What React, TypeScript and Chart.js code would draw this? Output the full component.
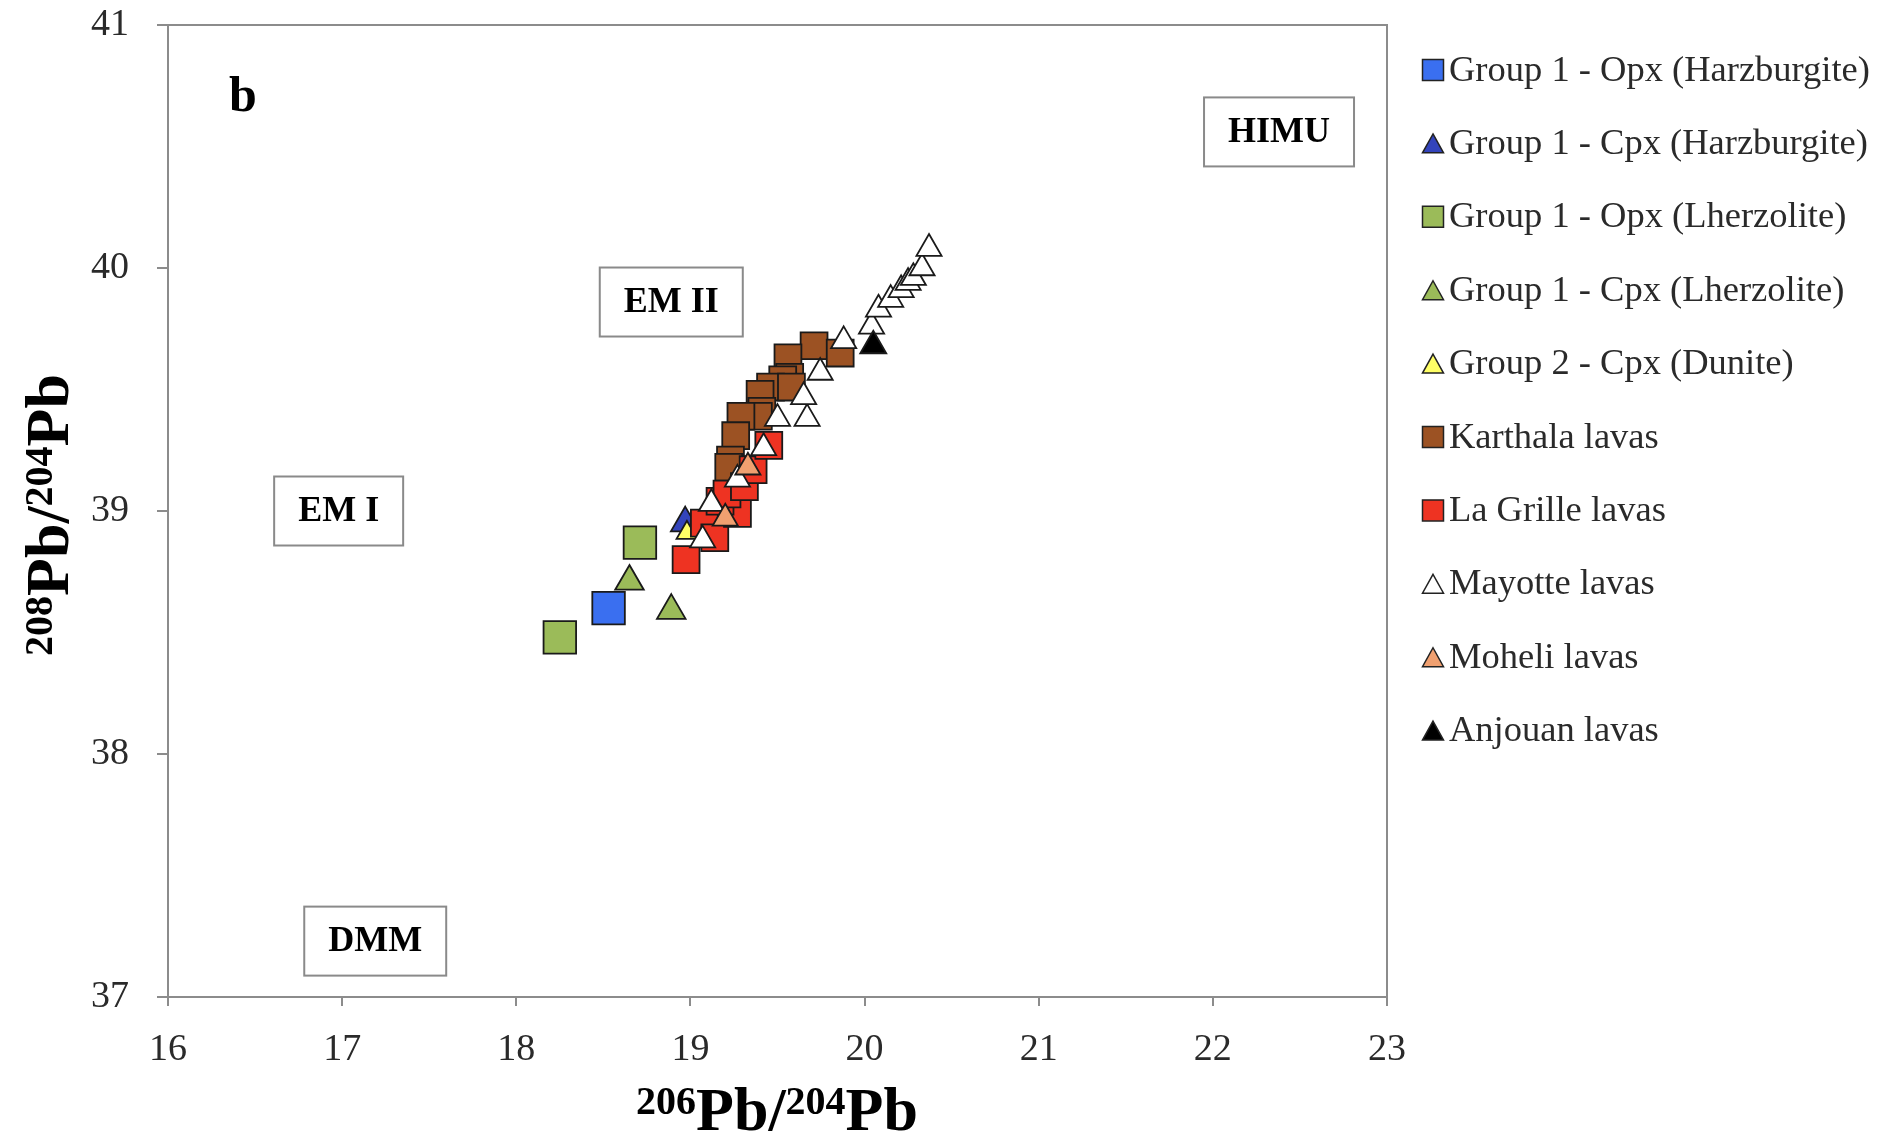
import React, { useEffect, useRef } from 'react';
import { Chart, registerables } from 'chart.js';

Chart.register(...registerables);

// ---------- data ----------
const seriesLabels = [
  'Group 1 - Opx (Harzburgite)',
  'Group 1 - Cpx (Harzburgite)',
  'Group 1 - Opx (Lherzolite)',
  'Group 1 - Cpx (Lherzolite)',
  'Group 2 - Cpx (Dunite)',
  'Karthala lavas',
  'La Grille lavas',
  'Mayotte lavas',
  'Moheli lavas',
  'Anjouan lavas',
];

const opxHarzburgite = [{ x: 18.53, y: 38.6 }];
const cpxHarzburgite = [{ x: 18.97, y: 38.95 }];
const opxLherzolite = [
  { x: 18.25, y: 38.48 },
  { x: 18.71, y: 38.87 },
];
const cpxLherzolite = [
  { x: 18.65, y: 38.71 },
  { x: 18.89, y: 38.59 },
];
const cpxDunite = [{ x: 18.98, y: 38.91 }];
const karthala = [
  { x: 19.71, y: 39.68 },
  { x: 19.56, y: 39.63 },
  { x: 19.86, y: 39.65 },
  { x: 19.57, y: 39.55 },
  { x: 19.53, y: 39.54 },
  { x: 19.46, y: 39.51 },
  { x: 19.4, y: 39.48 },
  { x: 19.41, y: 39.41 },
  { x: 19.39, y: 39.39 },
  { x: 19.29, y: 39.39 },
  { x: 19.26, y: 39.31 },
  { x: 19.23, y: 39.21 },
  { x: 19.22, y: 39.18 },
  { x: 19.58, y: 39.51 },
];
const laGrille = [
  { x: 18.975, y: 38.8 },
  { x: 19.08, y: 38.95 },
  { x: 19.14, y: 38.89 },
  { x: 19.27, y: 38.99 },
  { x: 19.17, y: 39.04 },
  { x: 19.21, y: 39.07 },
  { x: 19.31, y: 39.1 },
  { x: 19.36, y: 39.17 },
  { x: 19.45, y: 39.27 },
];
const mayotte = [
  { x: 19.07, y: 38.88 },
  { x: 19.12, y: 39.03 },
  { x: 19.27, y: 39.13 },
  { x: 19.42, y: 39.26 },
  { x: 19.5, y: 39.38 },
  { x: 19.67, y: 39.38 },
  { x: 19.65, y: 39.47 },
  { x: 19.745, y: 39.57 },
  { x: 19.88, y: 39.7 },
  { x: 20.04, y: 39.76 },
  { x: 20.08, y: 39.83 },
  { x: 20.15, y: 39.87 },
  { x: 20.21, y: 39.91 },
  { x: 20.25, y: 39.94 },
  { x: 20.28, y: 39.96 },
  { x: 20.33, y: 40.0 },
  { x: 20.37, y: 40.08 },
];
const moheli = [
  { x: 19.2, y: 38.97 },
  { x: 19.33, y: 39.18 },
];
const anjouan = [{ x: 20.05, y: 39.68 }];

const seriesData = [
  opxHarzburgite,
  cpxHarzburgite,
  opxLherzolite,
  cpxLherzolite,
  cpxDunite,
  karthala,
  laGrille,
  mayotte,
  moheli,
  anjouan,
];

const xMin = 16;
const xMax = 23;
const yMin = 37;
const yMax = 41;

const regionLabels = ['HIMU', 'EM II', 'EM I', 'DMM'];
const regionX = [22.38, 18.89, 16.98, 17.19];
const regionY = [40.56, 39.86, 39.0, 37.23];

const panelLabel = 'b';
const panelX = 16.43;
const panelY = 40.7;

// ---------- styles ----------
const styles = [
  { shape: 'rect', fill: '#3a6ff0', r: 23 },
  { shape: 'triangle', fill: '#3344bb', r: 16.5 },
  { shape: 'rect', fill: '#9bbb59', r: 23 },
  { shape: 'triangle', fill: '#9bbb59', r: 16.5 },
  { shape: 'triangle', fill: '#ffff66', r: 12 },
  { shape: 'rect', fill: '#9c5223', r: 19 },
  { shape: 'rect', fill: '#ee3322', r: 19 },
  { shape: 'triangle', fill: '#ffffff', r: 14.5 },
  { shape: 'triangle', fill: '#f0a070', r: 14.5 },
  { shape: 'triangle', fill: '#000000', r: 15 },
];

const SERIF = "'Liberation Serif', 'Times New Roman', serif";
const AXIS_COLOR = '#8c8c8c';
const TEXT_COLOR = '#2a2a2a';

function drawSup(ctx: CanvasRenderingContext2D, parts: [string, boolean][], cx: number, baseY: number) {
  const mainFont = `bold 62px ${SERIF}`;
  const supFont = `bold 40px ${SERIF}`;
  let total = 0;
  const widths = parts.map(([t, sup]) => {
    ctx.font = sup ? supFont : mainFont;
    const w = ctx.measureText(t).width;
    total += w;
    return w;
  });
  let x = cx - total / 2;
  ctx.textAlign = 'left';
  ctx.textBaseline = 'alphabetic';
  ctx.fillStyle = '#000';
  parts.forEach(([t, sup], i) => {
    ctx.font = sup ? supFont : mainFont;
    ctx.fillText(t, x, sup ? baseY - 16 : baseY);
    x += widths[i];
  });
}

function markerPath(ctx: CanvasRenderingContext2D, shape: string, x: number, y: number, size: number) {
  ctx.beginPath();
  if (shape === 'rect') {
    ctx.rect(x - size / 2, y - size / 2, size, size);
  } else {
    const h = size * 0.9;
    ctx.moveTo(x, y - h / 2);
    ctx.lineTo(x + size / 2, y + h / 2);
    ctx.lineTo(x - size / 2, y + h / 2);
    ctx.closePath();
  }
}

const decorPlugin = {
  id: 'decor',
  beforeDatasetsDraw(chart: any) {
    const { ctx, scales } = chart;
    const xs = scales.x;
    const ys = scales.y;
    ctx.save();
    // region boxes
    regionLabels.forEach((label, i) => {
      const cx = xs.getPixelForValue(regionX[i]);
      const cy = ys.getPixelForValue(regionY[i]);
      ctx.font = `bold 36px ${SERIF}`;
      const tw = ctx.measureText(label).width;
      const bw = tw + 48;
      const bh = 69;
      ctx.fillStyle = '#fff';
      ctx.fillRect(cx - bw / 2, cy - bh / 2, bw, bh);
      ctx.strokeStyle = '#8a8a8a';
      ctx.lineWidth = 2;
      ctx.strokeRect(cx - bw / 2, cy - bh / 2, bw, bh);
      ctx.fillStyle = '#000';
      ctx.textAlign = 'center';
      ctx.textBaseline = 'middle';
      ctx.fillText(label, cx, cy + 1);
    });
    // panel label
    ctx.font = `bold 50px ${SERIF}`;
    ctx.fillStyle = '#000';
    ctx.textAlign = 'center';
    ctx.textBaseline = 'middle';
    ctx.fillText(panelLabel, xs.getPixelForValue(panelX), ys.getPixelForValue(panelY));
    ctx.restore();
  },
  afterDraw(chart: any) {
    const { ctx, chartArea } = chart;
    ctx.save();
    // frame top & right
    ctx.strokeStyle = AXIS_COLOR;
    ctx.lineWidth = 2;
    ctx.beginPath();
    ctx.moveTo(chartArea.left, chartArea.top);
    ctx.lineTo(chartArea.right, chartArea.top);
    ctx.lineTo(chartArea.right, chartArea.bottom);
    ctx.stroke();

    // axis titles
    drawSup(ctx, [['206', true], ['Pb/', false], ['204', true], ['Pb', false]], 777, 1130);
    ctx.save();
    ctx.translate(68, 515);
    ctx.rotate(-Math.PI / 2);
    drawSup(ctx, [['208', true], ['Pb/', false], ['204', true], ['Pb', false]], 0, 0);
    ctx.restore();

    // legend
    const lx = 1433;
    const ly0 = 70;
    const step = 73.4;
    seriesLabels.forEach((label, i) => {
      const y = ly0 + i * step;
      const st = styles[i];
      markerPath(ctx, st.shape, lx, y, 21);
      ctx.fillStyle = st.fill;
      ctx.fill();
      ctx.strokeStyle = '#222';
      ctx.lineWidth = 1.5;
      ctx.stroke();
      ctx.font = `36.5px ${SERIF}`;
      ctx.fillStyle = TEXT_COLOR;
      ctx.textAlign = 'left';
      ctx.textBaseline = 'middle';
      ctx.fillText(label, 1449, y + 1);
    });
    ctx.restore();
  },
};

export default function App() {
  const ref = useRef<HTMLCanvasElement>(null);
  useEffect(() => {
    if (!ref.current) return;
    const n = seriesData.length;
    const chart = new Chart(ref.current, {
      type: 'scatter',
      data: {
        datasets: seriesData.map((d, i) => ({
          label: seriesLabels[i],
          data: d,
          pointStyle: styles[i].shape as any,
          pointRadius: styles[i].r,
          pointHoverRadius: styles[i].r,
          backgroundColor: styles[i].fill,
          borderColor: '#1a1a1a',
          borderWidth: 1.8,
          order: n - i,
        })),
      },
      options: {
        responsive: false,
        devicePixelRatio: 1,
        animation: false,
        events: [],
        layout: { padding: { left: 0, right: 507, top: 25, bottom: 0 }, autoPadding: false },
        plugins: {
          legend: { display: false },
          tooltip: { enabled: false },
        },
        scales: {
          x: {
            type: 'linear',
            min: xMin,
            max: xMax,
            afterFit: (s: any) => {
              s.height = 146;
              s.paddingLeft = 0;
              s.paddingRight = 0;
            },
            ticks: {
              stepSize: 1,
              font: { family: SERIF, size: 38 },
              color: TEXT_COLOR,
              padding: 21,
            },
            grid: {
              display: true,
              drawOnChartArea: false,
              drawTicks: true,
              tickLength: 9,
              color: AXIS_COLOR,
              lineWidth: 2,
            },
            border: { display: true, color: AXIS_COLOR, width: 2 },
          },
          y: {
            type: 'linear',
            min: yMin,
            max: yMax,
            afterFit: (s: any) => {
              s.width = 168;
              s.paddingTop = 0;
              s.paddingBottom = 0;
            },
            ticks: {
              stepSize: 1,
              font: { family: SERIF, size: 38 },
              color: TEXT_COLOR,
              padding: 28,
            },
            grid: {
              display: true,
              drawOnChartArea: false,
              drawTicks: true,
              tickLength: 11,
              color: AXIS_COLOR,
              lineWidth: 2,
            },
            border: { display: true, color: AXIS_COLOR, width: 2 },
          },
        },
      },
      plugins: [decorPlugin],
    });
    return () => chart.destroy();
  }, []);
  return (
    <div style={{ position: 'absolute', left: 0, top: 0, width: 1894, height: 1143, background: '#fff' }}>
      <canvas ref={ref} width={1894} height={1143} style={{ display: 'block', width: 1894, height: 1143 }} />
    </div>
  );
}
